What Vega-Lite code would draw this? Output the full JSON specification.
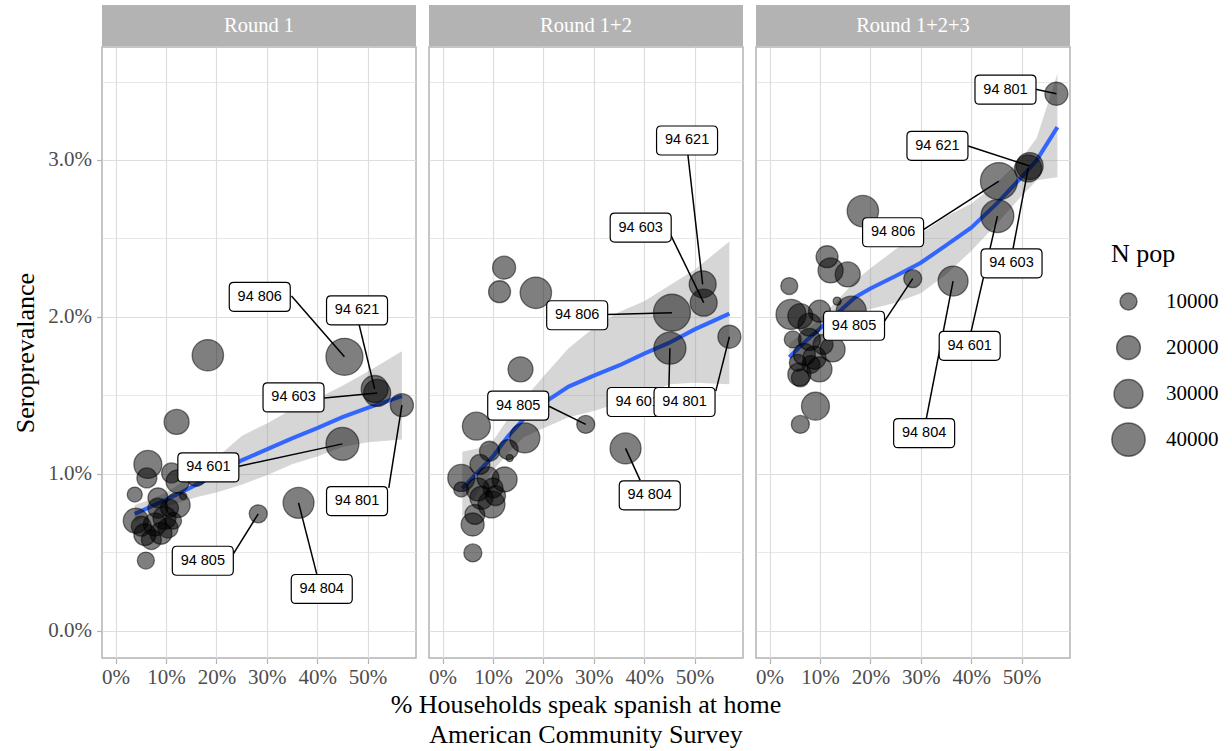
{
  "$schema": "https://vega.github.io/schema/vega-lite/v6.json",
  "padding": {"left": 12, "top": 5, "right": 5, "bottom": 5},
  "background": "white",
  "spacing": 0,
  "config": {
    "font": "Liberation Serif",
    "view": {"stroke": "#B3B3B3", "strokeWidth": 1.5},
    "axis": {"domain": false, "tickColor": "#B3B3B3", "tickWidth": 1.2, "tickSize": 5.5, "labelFont": "Liberation Serif", "labelFontSize": 21, "labelColor": "#4D4D4D", "titleFont": "Liberation Serif", "titleFontSize": 26, "titleFontWeight": "normal", "titleColor": "black", "gridColor": "#DEDEDE", "labelOverlap": false, "labelFlush": false},
    "legend": {"titleFont": "Liberation Serif", "titleFontSize": 26, "titleFontWeight": "normal", "titleColor": "black", "labelFont": "Liberation Serif", "labelFontSize": 21, "labelColor": "black"}
  },
  "vconcat": [
    {
      "data": {"values": [{"round": "Round 1"}, {"round": "Round 1+2"}, {"round": "Round 1+2+3"}]},
      "facet": {"column": {"field": "round", "type": "nominal", "sort": ["Round 1", "Round 1+2", "Round 1+2+3"], "header": {"labels": false, "title": null}}},
      "spacing": 13,
      "bounds": "flush",
      "spec": {
        "width": 314,
        "height": 41,
        "view": {"fill": "#B3B3B3", "stroke": null},
        "mark": {"type": "text", "color": "white", "fontSize": 20.5, "font": "Liberation Serif", "align": "center", "baseline": "middle"},
        "encoding": {"text": {"field": "round", "type": "nominal"}}
      }
    },
    {
      "data": {"values": [
        {"kind":"fit","round":"Round 1","x":3.8,"fit":0.744,"lo":0.69,"hi":0.80},
        {"kind":"fit","round":"Round 1","x":7,"fit":0.79,"lo":0.75,"hi":0.835},
        {"kind":"fit","round":"Round 1","x":10,"fit":0.835,"lo":0.79,"hi":0.88},
        {"kind":"fit","round":"Round 1","x":13,"fit":0.88,"lo":0.82,"hi":0.94},
        {"kind":"fit","round":"Round 1","x":16,"fit":0.93,"lo":0.85,"hi":1.01},
        {"kind":"fit","round":"Round 1","x":20,"fit":0.99,"lo":0.88,"hi":1.10},
        {"kind":"fit","round":"Round 1","x":25,"fit":1.085,"lo":0.93,"hi":1.24},
        {"kind":"fit","round":"Round 1","x":30,"fit":1.155,"lo":0.99,"hi":1.32},
        {"kind":"fit","round":"Round 1","x":35,"fit":1.225,"lo":1.06,"hi":1.41},
        {"kind":"fit","round":"Round 1","x":40,"fit":1.29,"lo":1.11,"hi":1.48},
        {"kind":"fit","round":"Round 1","x":45,"fit":1.36,"lo":1.17,"hi":1.56},
        {"kind":"fit","round":"Round 1","x":50,"fit":1.42,"lo":1.20,"hi":1.65},
        {"kind":"fit","round":"Round 1","x":56.8,"fit":1.494,"lo":1.218,"hi":1.78},
        {"kind":"fit","round":"Round 1+2","x":3.9,"fit":0.906,"lo":0.72,"hi":1.14},
        {"kind":"fit","round":"Round 1+2","x":7,"fit":1.01,"lo":0.88,"hi":1.16},
        {"kind":"fit","round":"Round 1+2","x":10,"fit":1.11,"lo":1.02,"hi":1.21},
        {"kind":"fit","round":"Round 1+2","x":13,"fit":1.24,"lo":1.13,"hi":1.35},
        {"kind":"fit","round":"Round 1+2","x":16,"fit":1.345,"lo":1.23,"hi":1.47},
        {"kind":"fit","round":"Round 1+2","x":20,"fit":1.45,"lo":1.29,"hi":1.62},
        {"kind":"fit","round":"Round 1+2","x":25,"fit":1.555,"lo":1.36,"hi":1.80},
        {"kind":"fit","round":"Round 1+2","x":30,"fit":1.625,"lo":1.40,"hi":1.93},
        {"kind":"fit","round":"Round 1+2","x":35,"fit":1.69,"lo":1.45,"hi":2.03},
        {"kind":"fit","round":"Round 1+2","x":40,"fit":1.765,"lo":1.50,"hi":2.10},
        {"kind":"fit","round":"Round 1+2","x":45,"fit":1.835,"lo":1.57,"hi":2.20},
        {"kind":"fit","round":"Round 1+2","x":50,"fit":1.92,"lo":1.58,"hi":2.30},
        {"kind":"fit","round":"Round 1+2","x":56.9,"fit":2.02,"lo":1.57,"hi":2.48},
        {"kind":"fit","round":"Round 1+2+3","x":3.9,"fit":1.743,"lo":1.66,"hi":1.83},
        {"kind":"fit","round":"Round 1+2+3","x":7,"fit":1.84,"lo":1.77,"hi":1.91},
        {"kind":"fit","round":"Round 1+2+3","x":10,"fit":1.925,"lo":1.86,"hi":1.99},
        {"kind":"fit","round":"Round 1+2+3","x":13,"fit":2.01,"lo":1.93,"hi":2.09},
        {"kind":"fit","round":"Round 1+2+3","x":17,"fit":2.125,"lo":2.02,"hi":2.23},
        {"kind":"fit","round":"Round 1+2+3","x":20,"fit":2.18,"lo":2.05,"hi":2.31},
        {"kind":"fit","round":"Round 1+2+3","x":25,"fit":2.26,"lo":2.09,"hi":2.43},
        {"kind":"fit","round":"Round 1+2+3","x":30,"fit":2.345,"lo":2.15,"hi":2.53},
        {"kind":"fit","round":"Round 1+2+3","x":35,"fit":2.455,"lo":2.27,"hi":2.64},
        {"kind":"fit","round":"Round 1+2+3","x":40,"fit":2.568,"lo":2.42,"hi":2.72},
        {"kind":"fit","round":"Round 1+2+3","x":45,"fit":2.72,"lo":2.59,"hi":2.85},
        {"kind":"fit","round":"Round 1+2+3","x":50,"fit":2.89,"lo":2.77,"hi":3.01},
        {"kind":"fit","round":"Round 1+2+3","x":53,"fit":3.0,"lo":2.87,"hi":3.14},
        {"kind":"fit","round":"Round 1+2+3","x":57.1,"fit":3.209,"lo":2.89,"hi":3.55},

        {"kind":"pt","round":"Round 1","zip":"94 806","x":45.4,"y":1.745,"n":49500},
        {"kind":"pt","round":"Round 1","zip":"94 621","x":51.4,"y":1.54,"n":26000},
        {"kind":"pt","round":"Round 1","zip":"94 603","x":51.9,"y":1.515,"n":26000},
        {"kind":"pt","round":"Round 1","zip":"94 801","x":56.8,"y":1.437,"n":18800},
        {"kind":"pt","round":"Round 1","zip":"94 601","x":45.0,"y":1.19,"n":39000},
        {"kind":"pt","round":"Round 1","zip":"94 805","x":28.3,"y":0.744,"n":11300},
        {"kind":"pt","round":"Round 1","zip":"94 804","x":36.3,"y":0.814,"n":34500},
        {"kind":"pt","round":"Round 1","zip":"","x":18.3,"y":1.755,"n":35500},
        {"kind":"pt","round":"Round 1","zip":"","x":12.1,"y":1.33,"n":22300},
        {"kind":"pt","round":"Round 1","zip":"","x":6.4,"y":1.059,"n":28000},
        {"kind":"pt","round":"Round 1","zip":"","x":6.2,"y":0.973,"n":14000},
        {"kind":"pt","round":"Round 1","zip":"","x":11.1,"y":1.005,"n":14000},
        {"kind":"pt","round":"Round 1","zip":"","x":12.3,"y":0.95,"n":18800},
        {"kind":"pt","round":"Round 1","zip":"","x":16.0,"y":0.984,"n":14000},
        {"kind":"pt","round":"Round 1","zip":"","x":3.8,"y":0.867,"n":7700},
        {"kind":"pt","round":"Round 1","zip":"","x":13.4,"y":0.857,"n":1300},
        {"kind":"pt","round":"Round 1","zip":"","x":12.3,"y":0.80,"n":22300},
        {"kind":"pt","round":"Round 1","zip":"","x":8.4,"y":0.846,"n":14000},
        {"kind":"pt","round":"Round 1","zip":"","x":4.0,"y":0.70,"n":22300},
        {"kind":"pt","round":"Round 1","zip":"","x":5.8,"y":0.612,"n":17100},
        {"kind":"pt","round":"Round 1","zip":"","x":6.0,"y":0.446,"n":10000},
        {"kind":"pt","round":"Round 1","zip":"","x":7.8,"y":0.676,"n":18800},
        {"kind":"pt","round":"Round 1","zip":"","x":9.7,"y":0.718,"n":18800},
        {"kind":"pt","round":"Round 1","zip":"","x":10.4,"y":0.654,"n":14000},
        {"kind":"pt","round":"Round 1","zip":"","x":8.4,"y":0.78,"n":14000},
        {"kind":"pt","round":"Round 1","zip":"","x":7.1,"y":0.58,"n":14000},
        {"kind":"pt","round":"Round 1","zip":"","x":11.4,"y":0.70,"n":10000},
        {"kind":"pt","round":"Round 1","zip":"","x":5.1,"y":0.665,"n":14000},
        {"kind":"pt","round":"Round 1","zip":"","x":10.7,"y":0.78,"n":11300},
        {"kind":"pt","round":"Round 1","zip":"","x":9.0,"y":0.62,"n":17000},

        {"kind":"pt","round":"Round 1+2","zip":"94 806","x":45.5,"y":2.026,"n":49500},
        {"kind":"pt","round":"Round 1+2","zip":"94 621","x":51.6,"y":2.207,"n":26000},
        {"kind":"pt","round":"Round 1+2","zip":"94 603","x":51.8,"y":2.09,"n":26000},
        {"kind":"pt","round":"Round 1+2","zip":"94 601","x":45.1,"y":1.80,"n":37000},
        {"kind":"pt","round":"Round 1+2","zip":"94 801","x":56.9,"y":1.873,"n":18800},
        {"kind":"pt","round":"Round 1+2","zip":"94 805","x":28.4,"y":1.314,"n":11300},
        {"kind":"pt","round":"Round 1+2","zip":"94 804","x":36.3,"y":1.161,"n":34500},
        {"kind":"pt","round":"Round 1+2","zip":"","x":12.2,"y":2.313,"n":18800},
        {"kind":"pt","round":"Round 1+2","zip":"","x":11.3,"y":2.16,"n":17100},
        {"kind":"pt","round":"Round 1+2","zip":"","x":18.5,"y":2.153,"n":35500},
        {"kind":"pt","round":"Round 1+2","zip":"","x":15.45,"y":1.665,"n":22300},
        {"kind":"pt","round":"Round 1+2","zip":"","x":6.7,"y":1.303,"n":28000},
        {"kind":"pt","round":"Round 1+2","zip":"","x":16.3,"y":1.228,"n":32400},
        {"kind":"pt","round":"Round 1+2","zip":"","x":13.3,"y":1.10,"n":1300},
        {"kind":"pt","round":"Round 1+2","zip":"","x":13.0,"y":1.154,"n":14000},
        {"kind":"pt","round":"Round 1+2","zip":"","x":9.3,"y":1.143,"n":14000},
        {"kind":"pt","round":"Round 1+2","zip":"","x":7.4,"y":1.059,"n":14000},
        {"kind":"pt","round":"Round 1+2","zip":"","x":3.7,"y":0.973,"n":26000},
        {"kind":"pt","round":"Round 1+2","zip":"","x":12.3,"y":0.963,"n":22300},
        {"kind":"pt","round":"Round 1+2","zip":"","x":9.0,"y":0.973,"n":17100},
        {"kind":"pt","round":"Round 1+2","zip":"","x":3.7,"y":0.899,"n":7700},
        {"kind":"pt","round":"Round 1+2","zip":"","x":7.0,"y":0.899,"n":18800},
        {"kind":"pt","round":"Round 1+2","zip":"","x":10.0,"y":0.909,"n":14000},
        {"kind":"pt","round":"Round 1+2","zip":"","x":7.7,"y":0.846,"n":18800},
        {"kind":"pt","round":"Round 1+2","zip":"","x":9.7,"y":0.804,"n":26000},
        {"kind":"pt","round":"Round 1+2","zip":"","x":6.4,"y":0.74,"n":14000},
        {"kind":"pt","round":"Round 1+2","zip":"","x":5.96,"y":0.676,"n":18800},
        {"kind":"pt","round":"Round 1+2","zip":"","x":6.0,"y":0.495,"n":11300},
        {"kind":"pt","round":"Round 1+2","zip":"","x":10.5,"y":0.86,"n":14000},

        {"kind":"pt","round":"Round 1+2+3","zip":"94 801","x":56.9,"y":3.422,"n":18800},
        {"kind":"pt","round":"Round 1+2+3","zip":"94 621","x":51.6,"y":2.961,"n":26000},
        {"kind":"pt","round":"Round 1+2+3","zip":"94 603","x":51.3,"y":2.946,"n":26000},
        {"kind":"pt","round":"Round 1+2+3","zip":"94 806","x":45.5,"y":2.865,"n":49500},
        {"kind":"pt","round":"Round 1+2+3","zip":"94 601","x":45.2,"y":2.642,"n":39000},
        {"kind":"pt","round":"Round 1+2+3","zip":"94 804","x":36.4,"y":2.228,"n":32400},
        {"kind":"pt","round":"Round 1+2+3","zip":"94 805","x":28.4,"y":2.243,"n":11300},
        {"kind":"pt","round":"Round 1+2+3","zip":"","x":18.5,"y":2.674,"n":35500},
        {"kind":"pt","round":"Round 1+2+3","zip":"","x":11.4,"y":2.383,"n":17100},
        {"kind":"pt","round":"Round 1+2+3","zip":"","x":12.1,"y":2.296,"n":22300},
        {"kind":"pt","round":"Round 1+2+3","zip":"","x":15.5,"y":2.27,"n":22300},
        {"kind":"pt","round":"Round 1+2+3","zip":"","x":3.9,"y":2.196,"n":10000},
        {"kind":"pt","round":"Round 1+2+3","zip":"","x":13.4,"y":2.10,"n":1800},
        {"kind":"pt","round":"Round 1+2+3","zip":"","x":16.2,"y":2.036,"n":32400},
        {"kind":"pt","round":"Round 1+2+3","zip":"","x":4.25,"y":2.015,"n":32400},
        {"kind":"pt","round":"Round 1+2+3","zip":"","x":6.1,"y":2.004,"n":22300},
        {"kind":"pt","round":"Round 1+2+3","zip":"","x":9.9,"y":2.036,"n":17100},
        {"kind":"pt","round":"Round 1+2+3","zip":"","x":7.9,"y":1.95,"n":18800},
        {"kind":"pt","round":"Round 1+2+3","zip":"","x":4.6,"y":1.856,"n":10000},
        {"kind":"pt","round":"Round 1+2+3","zip":"","x":7.9,"y":1.856,"n":17100},
        {"kind":"pt","round":"Round 1+2+3","zip":"","x":12.5,"y":1.792,"n":22300},
        {"kind":"pt","round":"Round 1+2+3","zip":"","x":10.6,"y":1.824,"n":14000},
        {"kind":"pt","round":"Round 1+2+3","zip":"","x":6.9,"y":1.76,"n":17100},
        {"kind":"pt","round":"Round 1+2+3","zip":"","x":8.9,"y":1.739,"n":18800},
        {"kind":"pt","round":"Round 1+2+3","zip":"","x":5.6,"y":1.707,"n":10000},
        {"kind":"pt","round":"Round 1+2+3","zip":"","x":9.9,"y":1.665,"n":22300},
        {"kind":"pt","round":"Round 1+2+3","zip":"","x":8.2,"y":1.696,"n":11300},
        {"kind":"pt","round":"Round 1+2+3","zip":"","x":5.9,"y":1.633,"n":18800},
        {"kind":"pt","round":"Round 1+2+3","zip":"","x":6.1,"y":1.611,"n":11300},
        {"kind":"pt","round":"Round 1+2+3","zip":"","x":9.1,"y":1.43,"n":28000},
        {"kind":"pt","round":"Round 1+2+3","zip":"","x":6.1,"y":1.314,"n":11300},

        {"kind":"lab","round":"Round 1","zip":"94 806","x":45.4,"y":1.745,"lx":28.6,"ly":2.127,"sx":34.9,"sy":2.132},
        {"kind":"lab","round":"Round 1","zip":"94 621","x":51.4,"y":1.54,"lx":47.9,"ly":2.041,"sx":48.3,"sy":1.952},
        {"kind":"lab","round":"Round 1","zip":"94 603","x":51.9,"y":1.515,"lx":35.3,"ly":1.486,"sx":41.4,"sy":1.483},
        {"kind":"lab","round":"Round 1","zip":"94 601","x":45.0,"y":1.19,"lx":18.4,"ly":1.040,"sx":24.5,"sy":1.048},
        {"kind":"lab","round":"Round 1","zip":"94 801","x":56.8,"y":1.437,"lx":47.9,"ly":0.825,"sx":54.2,"sy":0.91},
        {"kind":"lab","round":"Round 1","zip":"94 805","x":28.3,"y":0.744,"lx":17.3,"ly":0.445,"sx":23.3,"sy":0.485},
        {"kind":"lab","round":"Round 1","zip":"94 804","x":36.3,"y":0.814,"lx":40.9,"ly":0.265,"sx":39.9,"sy":0.361},
        {"kind":"lab","round":"Round 1+2","zip":"94 806","x":45.5,"y":2.026,"lx":26.7,"ly":2.01,"sx":32.7,"sy":2.015},
        {"kind":"lab","round":"Round 1+2","zip":"94 621","x":51.6,"y":2.207,"lx":48.5,"ly":3.124,"sx":48.65,"sy":3.038},
        {"kind":"lab","round":"Round 1+2","zip":"94 603","x":51.8,"y":2.09,"lx":39.3,"ly":2.569,"sx":45.1,"sy":2.532},
        {"kind":"lab","round":"Round 1+2","zip":"94 601","x":45.1,"y":1.80,"lx":38.7,"ly":1.457,"sx":44.9,"sy":1.552},
        {"kind":"lab","round":"Round 1+2","zip":"94 801","x":56.9,"y":1.873,"lx":48.0,"ly":1.457,"sx":54.2,"sy":1.526},
        {"kind":"lab","round":"Round 1+2","zip":"94 805","x":28.4,"y":1.314,"lx":15.0,"ly":1.434,"sx":21.1,"sy":1.43},
        {"kind":"lab","round":"Round 1+2","zip":"94 804","x":36.3,"y":1.161,"lx":41.1,"ly":0.862,"sx":39.2,"sy":0.957},
        {"kind":"lab","round":"Round 1+2+3","zip":"94 801","x":56.9,"y":3.422,"lx":46.8,"ly":3.448,"sx":52.8,"sy":3.45},
        {"kind":"lab","round":"Round 1+2+3","zip":"94 621","x":51.6,"y":2.961,"lx":33.3,"ly":3.09,"sx":39.4,"sy":3.089},
        {"kind":"lab","round":"Round 1+2+3","zip":"94 806","x":45.5,"y":2.865,"lx":24.5,"ly":2.539,"sx":30.6,"sy":2.557},
        {"kind":"lab","round":"Round 1+2+3","zip":"94 603","x":51.3,"y":2.946,"lx":48.0,"ly":2.341,"sx":48.3,"sy":2.434},
        {"kind":"lab","round":"Round 1+2+3","zip":"94 805","x":28.4,"y":2.243,"lx":16.75,"ly":1.943,"sx":22.8,"sy":1.973},
        {"kind":"lab","round":"Round 1+2+3","zip":"94 601","x":45.2,"y":2.642,"lx":39.7,"ly":1.815,"sx":40.0,"sy":1.909},
        {"kind":"lab","round":"Round 1+2+3","zip":"94 804","x":36.4,"y":2.228,"lx":30.66,"ly":1.258,"sx":31.1,"sy":1.352}
      ]},
      "facet": {"column": {"field": "round", "type": "nominal", "sort": ["Round 1", "Round 1+2", "Round 1+2+3"],
        "title": ["% Households speak spanish at home", "American Community Survey"],
        "header": {"labels": false, "titleOrient": "bottom", "titleFont": "Liberation Serif", "titleFontSize": 26, "titleFontWeight": "normal", "titleColor": "black", "titleLineHeight": 30, "titlePadding": -6}}},
      "spacing": 13,
      "bounds": "flush",
      "spec": {
        "width": 314,
        "height": 611,
        "layer": [
          {
            "transform": [{"filter": "datum.kind === 'fit'"}],
            "mark": {"type": "area", "color": "#999999", "opacity": 0.4},
            "encoding": {
              "x": {"field": "x", "type": "quantitative", "scale": {"domain": [-2.7, 59.6], "nice": false, "zero": false},
                "axis": {"title": null, "values": [0, 5, 10, 15, 20, 25, 30, 35, 40, 45, 50, 55],
                  "labelExpr": "datum.value % 10 === 0 ? datum.value + '%' : ''",
                  "gridWidth": {"condition": {"test": "datum.value % 10 === 0", "value": 1.2}, "value": 0.7},
                  "tickOpacity": {"condition": {"test": "datum.value % 10 === 0", "value": 1}, "value": 0},
                  "labelPadding": 3}},
              "y": {"field": "lo", "type": "quantitative", "scale": {"domain": [-0.175, 3.72], "nice": false, "zero": false},
                "axis": {"title": "Seroprevalance", "values": [0, 0.5, 1, 1.5, 2, 2.5, 3, 3.5],
                  "labelExpr": "datum.value % 1 === 0 ? format(datum.value, '.1f') + '%' : ''",
                  "gridWidth": {"condition": {"test": "datum.value % 1 === 0", "value": 1.2}, "value": 0.7},
                  "tickOpacity": {"condition": {"test": "datum.value % 1 === 0", "value": 1}, "value": 0},
                  "labelPadding": 5, "titlePadding": 9}},
              "y2": {"field": "hi"}
            }
          },
          {
            "transform": [{"filter": "datum.kind === 'fit'"}],
            "mark": {"type": "line", "color": "#3366FF", "strokeWidth": 4},
            "encoding": {
              "x": {"field": "x", "type": "quantitative"},
              "y": {"field": "fit", "type": "quantitative"}
            }
          },
          {
            "transform": [{"filter": "datum.kind === 'pt'"}],
            "mark": {"type": "circle", "fill": "rgba(0,0,0,0.5)", "stroke": "rgba(0,0,0,0.5)", "opacity": 1, "strokeWidth": 1.3},
            "encoding": {
              "x": {"field": "x", "type": "quantitative"},
              "y": {"field": "y", "type": "quantitative"},
              "size": {"field": "n", "type": "quantitative", "title": "N pop",
                "scale": {"domain": [0, 40000], "range": [15.3, 1109]},
                "legend": {"orient": "none", "legendX": 1009, "legendY": 236, "values": [10000, 20000, 30000, 40000], "format": "d", "symbolType": "circle", "gridAlign": "all", "rowPadding": 2.7, "labelOffset": 20, "titlePadding": 24}}
            }
          },
          {
            "transform": [{"filter": "datum.kind === 'lab'"}],
            "mark": {"type": "rule", "color": "black", "strokeWidth": 1.5},
            "encoding": {
              "x": {"field": "x", "type": "quantitative"},
              "y": {"field": "y", "type": "quantitative"},
              "x2": {"field": "sx"},
              "y2": {"field": "sy"}
            }
          },
          {
            "transform": [{"filter": "datum.kind === 'lab' && datum.zip !== '94 801'"}],
            "mark": {"type": "point", "shape": "M-0.852,-0.475L0.852,-0.475Q1,-0.475 1,-0.327L1,0.327Q1,0.475 0.852,0.475L-0.852,0.475Q-1,0.475 -1,0.327L-1,-0.327Q-1,-0.475 -0.852,-0.475Z", "size": 3721, "filled": true, "fill": "white", "stroke": "black", "strokeWidth": 1.2, "opacity": 1},
            "encoding": {
              "x": {"field": "lx", "type": "quantitative"},
              "y": {"field": "ly", "type": "quantitative"}
            }
          },
          {
            "transform": [{"filter": "datum.kind === 'lab' && datum.zip !== '94 801'"}],
            "mark": {"type": "text", "font": "Liberation Sans", "fontSize": 14.5, "color": "black", "align": "center", "baseline": "middle"},
            "encoding": {
              "x": {"field": "lx", "type": "quantitative"},
              "y": {"field": "ly", "type": "quantitative"},
              "text": {"field": "zip", "type": "nominal"}
            }
          },
          {
            "transform": [{"filter": "datum.kind === 'lab' && datum.zip === '94 801'"}],
            "mark": {"type": "point", "shape": "M-0.852,-0.475L0.852,-0.475Q1,-0.475 1,-0.327L1,0.327Q1,0.475 0.852,0.475L-0.852,0.475Q-1,0.475 -1,0.327L-1,-0.327Q-1,-0.475 -0.852,-0.475Z", "size": 3721, "filled": true, "fill": "white", "stroke": "black", "strokeWidth": 1.2, "opacity": 1},
            "encoding": {
              "x": {"field": "lx", "type": "quantitative"},
              "y": {"field": "ly", "type": "quantitative"}
            }
          },
          {
            "transform": [{"filter": "datum.kind === 'lab' && datum.zip === '94 801'"}],
            "mark": {"type": "text", "font": "Liberation Sans", "fontSize": 14.5, "color": "black", "align": "center", "baseline": "middle"},
            "encoding": {
              "x": {"field": "lx", "type": "quantitative"},
              "y": {"field": "ly", "type": "quantitative"},
              "text": {"field": "zip", "type": "nominal"}
            }
          }
        ]
      }
    }
  ]
}
